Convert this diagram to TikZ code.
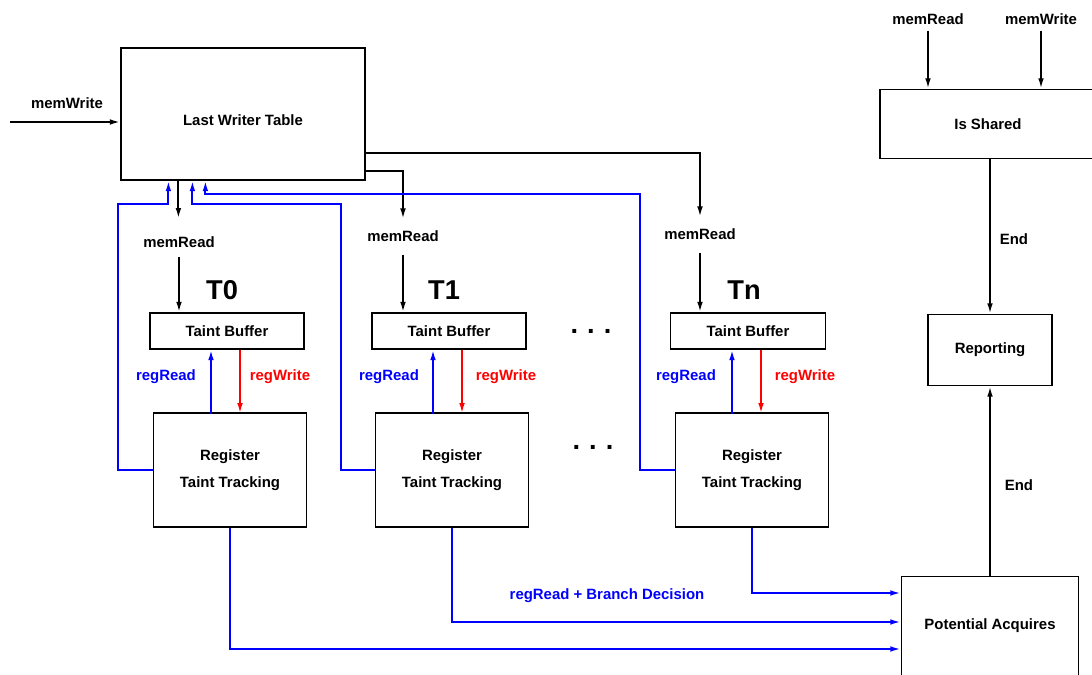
\documentclass[tikz,border=0pt]{standalone}
\usepackage{fontspec}
\setmainfont{Liberation Sans}
\usetikzlibrary{arrows.meta,calc}

\begin{document}
\begin{tikzpicture}[x=0.02cm,y=-0.02cm,
    font=\bfseries\fontsize{8.5}{10}\selectfont,
    box/.style={draw,line width=0.7pt,inner sep=0pt},
    big/.style={font=\bfseries\fontsize{15.5}{18}\selectfont},
    arr/.style={-{Latex[length=6pt,width=3.2pt]},line width=1.1pt},
    fb/.style={arr,blue},
    wr/.style={arr,red}]
  \useasboundingbox (0,0) rectangle (1092,675);
  % tables on the right
  \node[box,minimum width=4.88cm,minimum height=2.64cm,text height=13pt] (lwt) at (243,114) {Last Writer Table};
  \node[box,minimum width=4.32cm,minimum height=1.38cm] (shared) at (988,124) {Is Shared};
  \node[box,minimum width=2.48cm,minimum height=1.42cm] (report) at (990,350) {Reporting};
  \node[box,minimum width=3.54cm,minimum height=2.06cm,text depth=5pt] (acq) at (990,628) {Potential Acquires};
  % thread T0
  \node[big] (t0) at (222,290) {T0};
  \node[box,minimum width=3.08cm,minimum height=0.72cm] (tb0) at (227,331) {Taint Buffer};
  \node[box,minimum width=3.06cm,minimum height=2.28cm,align=center] (rt0) at (230,470) {Register\\[5.3pt]Taint Tracking};
  \node (mr0) at (179,242) {memRead};
  \node[blue] (rr0) at (166,377) {regRead};
  \node[red] (rw0) at (280,377) {regWrite};
  % thread T1
  \node[big] (t1) at (444,290) {T1};
  \node[box,minimum width=3.08cm,minimum height=0.72cm] (tb1) at (449,331) {Taint Buffer};
  \node[box,minimum width=3.06cm,minimum height=2.28cm,align=center] (rt1) at (452,470) {Register\\[5.3pt]Taint Tracking};
  \node (mr1) at (403,236) {memRead};
  \node[blue] (rr1) at (389,377) {regRead};
  \node[red] (rw1) at (506,377) {regWrite};
  % thread Tn
  \node[big] (tn) at (744,290) {Tn};
  \node[box,minimum width=3.1cm,minimum height=0.72cm] (tbn) at (748,331) {Taint Buffer};
  \node[box,minimum width=3.06cm,minimum height=2.28cm,align=center] (rtn) at (752,470) {Register\\[5.3pt]Taint Tracking};
  \node (mrn) at (700,234) {memRead};
  \node[blue] (rrn) at (686,377) {regRead};
  \node[red] (rwn) at (805,377) {regWrite};
  \node[big] (dots1) at (591,331) {.\,\,.\,\,.};
  \node[big] (dots2) at (593,447) {.\,\,.\,\,.};
  % other labels
  \node (mw) at (67,103) {memWrite};
  \coordinate (mwin) at (10,122);
  \node (sr) at (928,19) {memRead};
  \node (sw) at (1041,19) {memWrite};
  \node (end1) at (1014,239) {End};
  \node (end2) at (1019,485) {End};
  \node[blue] (br) at (607,596) {regRead + Branch Decision};

  % black connectors
  \draw[arr] (mwin) -- (mwin -| lwt.west);
  \draw[arr] (sr.south) -- (sr.south |- shared.north);
  \draw[arr] (sw.south) -- (sw.south |- shared.north);
  \draw[arr] (report.north |- shared.south) -- (report.north);
  \draw[arr] (acq.north) -- (acq.north |- report.south);
  \draw[arr] ($(lwt.south west)+(58,0)$) -- ($(lwt.south west)+(58,38)$);
  \draw[arr] ([yshift=-2pt]mr0.south) -- (mr0 |- tb0.north);
  \draw[arr] ($(lwt.south east)+(0,-10)$) -| ([yshift=3pt]mr1.north);
  \draw[arr] ([yshift=-4pt]mr1.south) -- (mr1 |- tb1.north);
  \draw[arr] ($(lwt.south east)+(0,-28)$) -| ([yshift=3pt]mrn.north);
  \draw[arr] ([yshift=-4pt]mrn.south) -- (mrn |- tbn.north);
  % register read / write
  \draw[fb] ($(tb0.south)+(-16,64)$) -- ($(tb0.south)+(-16,0)$);
  \draw[wr] ($(tb0.south)+(13,0)$) -- ($(tb0.south)+(13,64)$);
  \draw[fb] ($(tb1.south)+(-16,64)$) -- ($(tb1.south)+(-16,0)$);
  \draw[wr] ($(tb1.south)+(13,0)$) -- ($(tb1.south)+(13,64)$);
  \draw[fb] ($(tbn.south)+(-16,64)$) -- ($(tbn.south)+(-16,0)$);
  \draw[wr] ($(tbn.south)+(13,0)$) -- ($(tbn.south)+(13,64)$);
  % feedback into the table
  \draw[fb] (rt0.west) -- ++(-35,0) |- ($(lwt.south west)+(48,23)$) -- ($(lwt.south west)+(48,0)$);
  \draw[fb] (rt1.west) -- ++(-34,0) |- ($(lwt.south west)+(72,23)$) -- ($(lwt.south west)+(72,0)$);
  \draw[fb] (rtn.west) -- ++(-35,0) |- ($(lwt.south west)+(85,13)$) -- ($(lwt.south west)+(85,0)$);
  % to potential acquires
  \draw[fb] (rt0.south) |- ($(acq.west)+(0,21)$);
  \draw[fb] (rt1.south) |- ($(acq.west)+(0,-6)$);
  \draw[fb] (rtn.south) |- ($(acq.west)+(0,-35)$);
\end{tikzpicture}
\end{document}
